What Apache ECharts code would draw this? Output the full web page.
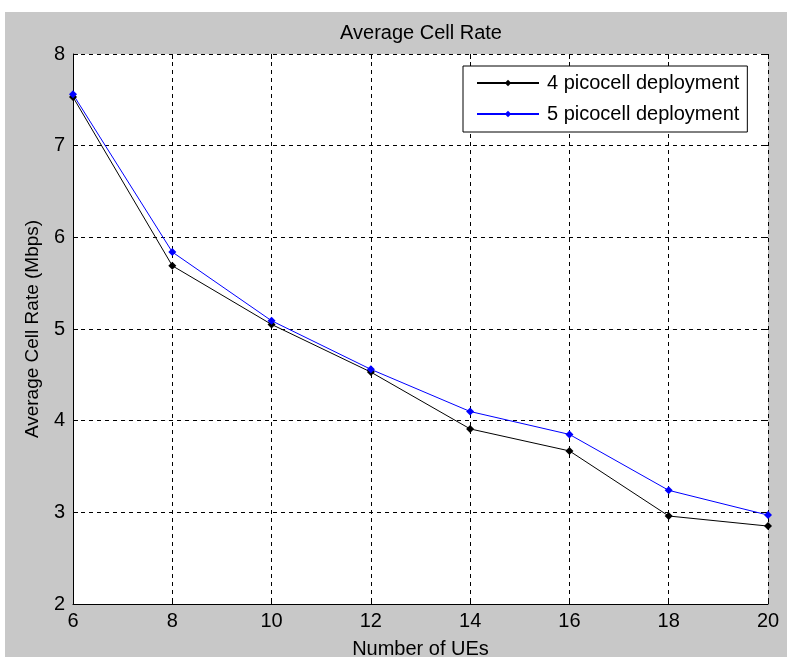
<!DOCTYPE html>
<html>
<head>
<meta charset="utf-8">
<script src="https://cdn.jsdelivr.net/npm/echarts@6/dist/echarts.min.js"></script>
<style>
  html, body { margin: 0; padding: 0; background: #fff; }
  #main { width: 787px; height: 657px; }
</style>
</head>
<body>
<div id="main"></div>
<script>
// number of UEs on the x axis
var ues = [6, 8, 10, 12, 14, 16, 18, 20];
// average cell rate (Mbps)
var rate4 = [7.53, 5.69, 5.05, 4.53, 3.91, 3.67, 2.96, 2.85];
var rate5 = [7.56, 5.84, 5.09, 4.56, 4.10, 3.85, 3.24, 2.97];
var seriesNames = ['4 picocell deployment', '5 picocell deployment'];

var font = 'Liberation Sans, Arial, sans-serif';

function pairs(xs, ys) {
	var out = [];
	for (var i = 0; i < xs.length; i++) {
		out.push([xs[i], ys[i]]);
	}
	return out;
}

function makeSeries(name, values, color) {
	return {
		type: 'line',
		name: name,
		data: pairs(ues, values),
		symbol: 'diamond',
		symbolSize: 8,
		showSymbol: true,
		lineStyle: { color: color, width: 1 },
		itemStyle: { color: color },
		animation: false
	};
}

var chart = echarts.init(document.getElementById('main'));

var option = {
	backgroundColor: '#fff',
	graphic: [{
		type: 'rect',
		left: 5,
		top: 12,
		z: -10,
		shape: { width: 782, height: 645 },
		style: { fill: '#c8c8c8' }
	}],
	title: {
		text: 'Average Cell Rate',
		left: 416,
		textAlign: 'center',
		top: 18,
		textStyle: { fontFamily: font, fontSize: 20, fontWeight: 'normal', color: '#000' }
	},
	legend: {
		left: 463,
		top: 66,
		orient: 'vertical',
		data: seriesNames,
		backgroundColor: '#fff',
		borderColor: '#000',
		borderWidth: 1,
		padding: [7, 8, 8, 13],
		itemGap: 11,
		itemWidth: 62,
		itemHeight: 8,
		textStyle: { fontFamily: font, fontSize: 20, color: '#000', padding: [0, 0, 0, 3] }
	},
	grid: {
		left: 73,
		right: 19,
		top: 54,
		bottom: 53,
		outerBoundsMode: 'none',
		containLabel: false,
		show: true,
		backgroundColor: '#fff',
		borderWidth: 0
	},
	xAxis: [{
		type: 'value',
		min: 6,
		max: 20,
		interval: 2,
		name: 'Number of UEs',
		nameLocation: 'middle',
		nameGap: 35,
		nameTextStyle: { fontFamily: font, fontSize: 20, color: '#000' },
		axisLine: { show: true, lineStyle: { color: '#000', width: 1 } },
		axisTick: { show: true, inside: true, length: 5, lineStyle: { color: '#000' } },
		axisLabel: { fontFamily: font, fontSize: 20, color: '#000', margin: 7 },
		splitLine: { show: true, lineStyle: { color: '#000', type: [4, 4], width: 1 } }
	}, {
		type: 'value',
		position: 'top',
		min: 6,
		max: 20,
		interval: 2,
		axisLine: { show: false },
		axisTick: { show: true, inside: true, length: 5, lineStyle: { color: '#000' } },
		axisLabel: { show: false },
		splitLine: { show: false }
	}],
	yAxis: [{
		type: 'value',
		min: 2,
		max: 8,
		interval: 1,
		name: 'Average Cell Rate (Mbps)',
		nameLocation: 'middle',
		nameGap: 31,
		nameTextStyle: { fontFamily: font, fontSize: 19, color: '#000' },
		axisLine: { show: true, lineStyle: { color: '#000', width: 1 } },
		axisTick: { show: true, inside: true, length: 5, lineStyle: { color: '#000' } },
		axisLabel: { fontFamily: font, fontSize: 20, color: '#000', margin: 8 },
		splitLine: { show: true, lineStyle: { color: '#000', type: [4, 4], width: 1 } }
	}, {
		type: 'value',
		position: 'right',
		min: 2,
		max: 8,
		interval: 1,
		axisLine: { show: false },
		axisTick: { show: true, inside: true, length: 5, lineStyle: { color: '#000' } },
		axisLabel: { show: false },
		splitLine: { show: false }
	}],
	series: [
		makeSeries(seriesNames[0], rate4, '#000000'),
		makeSeries(seriesNames[1], rate5, '#0000ff')
	]
};

chart.setOption(option);
</script>
</body>
</html>
